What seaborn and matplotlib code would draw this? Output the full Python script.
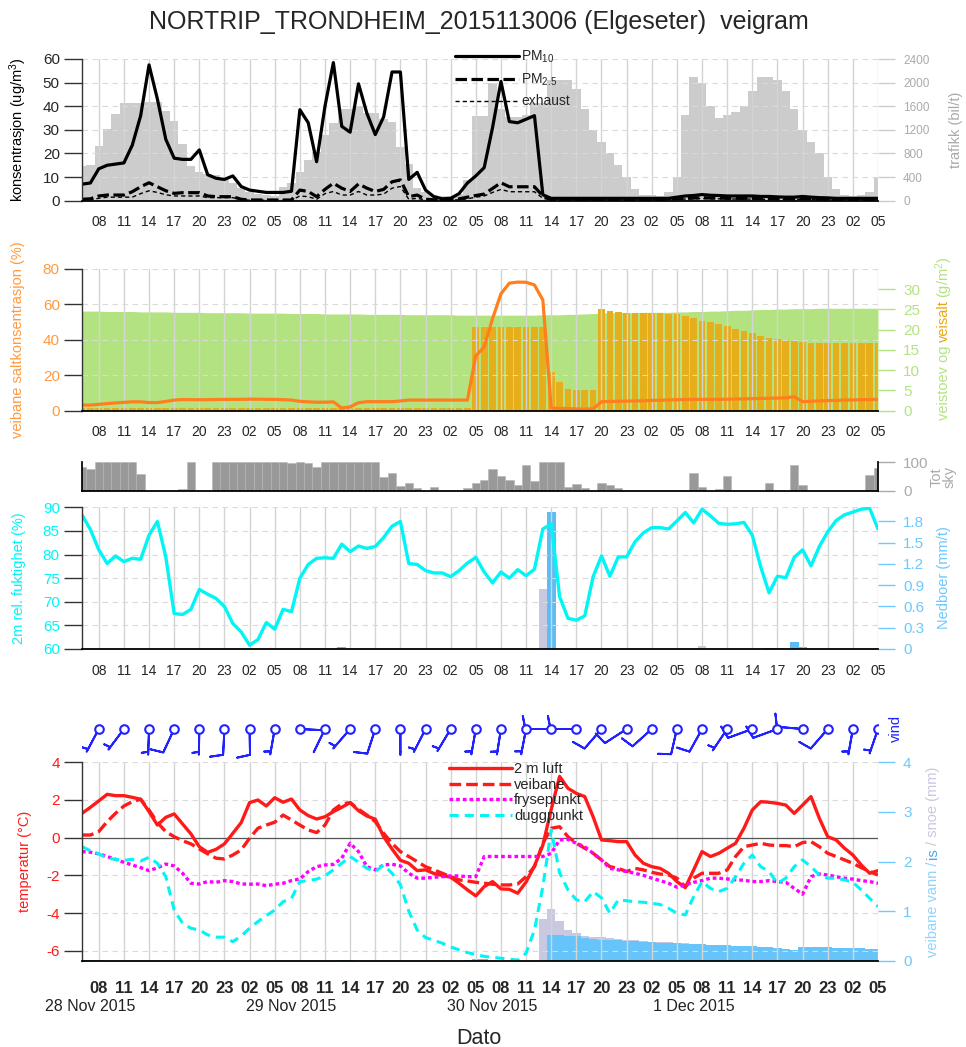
import numpy as np
import matplotlib
matplotlib.use("Agg")
import matplotlib.pyplot as plt
import seaborn as sns
from matplotlib.lines import Line2D

sns.set_theme(style="white")
plt.rcParams["font.family"] = ["Liberation Sans", "DejaVu Sans"]
plt.rcParams["mathtext.fontset"] = "custom"
plt.rcParams["mathtext.rm"] = "Liberation Sans"
plt.rcParams["mathtext.it"] = "Liberation Sans:italic"
plt.rcParams["axes.unicode_minus"] = False

# ---------------- data ----------------
start_hour = 6                      # first value: 28 Nov 2015 06:00
hours = np.arange(96)
day_names = ["28 Nov 2015", "29 Nov 2015", "30 Nov 2015", "1 Dec 2015"]

pm10 = [7, 7.5, 13.5, 15, 15.5, 16, 23.5, 36, 57.5, 43,
        26, 18, 17.5, 17.5, 21.5, 11, 9.5, 9, 10.5, 6,
        4.5, 4, 3.5, 3.5, 3.5, 4, 38.5, 33, 16.5, 40,
        58.5, 31.5, 29, 49.5, 37, 28, 35.5, 54.5, 54.5, 9,
        12, 4.5, 1.7, 0.8, 1, 3, 7.5, 10.5, 14, 31,
        50.5, 33.5, 33, 34.5, 36, 2.5, 1, 1, 1, 1,
        1, 1, 1, 1, 1, 1, 1, 1, 1, 1,
        1, 1.5, 2, 2.2, 2.6, 2.3, 2.2, 2, 2, 2,
        2, 1.8, 1.8, 1.6, 1.5, 1.5, 1.8, 1.5, 1.3, 1.2,
        1, 1, 1, 1, 1, 1]
pm25 = [0.6, 0.8, 2, 2.4, 2.4, 2.4, 3.8, 5.9, 7.6, 5.9,
        4.2, 3.1, 3.4, 3.4, 3.4, 2, 1.7, 1.7, 1.7, 0.6,
        0.3, 0.3, 0.3, 0.3, 0.3, 0.3, 4.5, 3.9, 1.7, 4.8,
        7.4, 5.3, 3.9, 7.1, 5.3, 3.9, 4.8, 8, 8.8, 1.7,
        2.4, 0.6, 0.4, 0.3, 0.3, 0.8, 1.5, 2.2, 2.8, 5.2,
        7.6, 5.9, 5.9, 5.9, 5.9, 2, 0.5, 0.4, 0.4, 0.4,
        0.4, 0.4, 0.4, 0.4, 0.4, 0.4, 0.4, 0.4, 0.5, 0.6,
        0.7, 0.9, 1.0, 1.1, 1.3, 1.1, 1.1, 1.0, 1.0, 1.0,
        1.0, 0.9, 0.9, 0.8, 0.8, 0.8, 0.9, 0.8, 0.7, 0.6,
        0.5, 0.5, 0.5, 0.5, 0.5, 0.5]
exhaust = [0.2, 0.4, 1, 1.5, 1.5, 1.5, 1.5, 3, 4.2, 3.5,
           2.5, 2, 2, 2, 2, 1.3, 1.3, 1.3, 1.3, 0.5,
           0.2, 0.2, 0.2, 0.2, 0.2, 0.2, 2, 1.7, 0.6, 3,
           3.9, 2.4, 2.4, 3.9, 2.4, 2.4, 2.8, 5.3, 6, 0.6,
           1, 0.3, 0.2, 0.2, 0.2, 0.4, 0.8, 1.5, 2, 3.5,
           4.8, 3.8, 3.8, 3.8, 3.8, 1, 0.3, 0.3, 0.3, 0.3,
           0.3, 0.3, 0.3, 0.3, 0.3, 0.3, 0.3, 0.3, 0.3, 0.4,
           0.5, 0.6, 0.7, 0.8, 0.9, 0.8, 0.8, 0.7, 0.7, 0.7,
           0.7, 0.6, 0.6, 0.6, 0.6, 0.6, 0.6, 0.5, 0.5, 0.4,
           0.3, 0.3, 0.3, 0.3, 0.3, 0.3]
traffic = [590, 600, 925, 1210, 1470, 1650, 1660, 1660, 1680, 1680,
           1520, 1350, 955, 580, 490, 460, 440, 350, 300, 210,
           150, 120, 100, 80, 237, 305, 491, 688, 825, 1120,
           1313, 1560, 1560, 1600, 1480, 1480, 1390, 1330, 910, 630,
           210, 150, 100, 80, 80, 120, 350, 1430, 1430, 2000,
           1550, 1420, 1420, 1450, 1650, 1650, 2050, 2050, 2050, 1900,
           1560, 1200, 1000, 800, 600, 400, 200, 100, 100, 80,
           150, 400, 1450, 2100, 2000, 1600, 1400, 1450, 1500, 1600,
           1850, 2100, 2100, 2050, 1850, 1550, 1200, 1000, 800, 400,
           200, 100, 80, 100, 150, 400]

salt_conc = [3.2, 3.2, 3.6, 4.0, 4.4, 4.7, 5.0, 5.0, 4.6, 4.6,
             5.2, 6.0, 6.3, 6.2, 6.2, 6.2, 6.3, 6.4, 6.4, 6.4,
             6.5, 6.5, 6.4, 6.4, 6.2, 6.0, 5.3, 5.0, 4.8, 4.8,
             5.0, 1.5, 2.2, 4.5, 5.1, 5.1, 5.1, 5.1, 5.5, 6.0,
             6.0, 6.0, 6.0, 6.0, 6.0, 6.0, 6.0, 31.0, 36.0, 52.0,
             66.0, 72.0, 72.6, 72.5, 71.0, 62.5, 1.5, 1.3, 1.2, 1.0,
             0.9, 1.0, 5.1, 5.2, 5.3, 5.4, 5.5, 5.6, 5.8, 5.9,
             6.1, 6.2, 6.4, 6.4, 6.4, 6.4, 6.4, 6.5, 6.6, 6.7,
             6.8, 6.9, 7.0, 7.1, 7.3, 7.9, 5.1, 5.3, 5.5, 5.7,
             5.8, 6.0, 6.1, 6.2, 6.3, 6.4]
road_dust = [24.6, 24.6, 24.6, 24.5, 24.5, 24.5, 24.5, 24.4, 24.4, 24.4,
             24.4, 24.3, 24.3, 24.3, 24.3, 24.2, 24.2, 24.2, 24.2, 24.2,
             24.1, 24.1, 24.1, 24.1, 24.1, 24.0, 24.0, 24.0, 24.0, 23.9,
             23.9, 23.9, 23.9, 23.9, 23.8, 23.8, 23.8, 23.8, 23.8, 23.7,
             23.7, 23.7, 23.7, 23.7, 23.7, 23.6, 23.6, 23.6, 23.6, 23.6,
             23.6, 23.6, 23.6, 23.6, 23.6, 23.7, 23.7, 23.7, 23.8, 23.8,
             23.9, 24.0, 24.1, 24.2, 24.2, 24.2, 24.2, 24.3, 24.3, 24.3,
             24.3, 24.4, 24.4, 24.5, 24.5, 24.6, 24.6, 24.7, 24.8, 24.8,
             24.9, 25.0, 25.0, 25.1, 25.1, 25.2, 25.2, 25.2, 25.3, 25.3,
             25.3, 25.3, 25.3, 25.3, 25.3, 25.3]
road_salt = [0.6] * 47 + [20.7] * 9 + [9.6, 7.2, 5.4, 5.2, 5.1, 5.0,
             25.0, 24.7, 24.4, 24.2, 24.2, 24.2, 24.2, 24.2, 24.0, 24.0,
             23.5, 22.8, 22.2, 21.8, 21.3, 20.9, 20.3, 19.7, 19.1, 18.5,
             18.0, 17.6, 17.5, 17.2, 17.0, 16.8, 16.6, 16.6, 16.6, 16.6,
             16.6, 16.6, 16.6, 16.6]

cloud = [81, 76, 100, 100, 100, 100, 100, 58, 0, 0,
         0, 0, 5, 100, 0, 0, 100, 100, 100, 100,
         100, 100, 100, 100, 100, 97, 100, 97, 84, 100,
         100, 100, 100, 100, 100, 100, 49, 61, 17, 26,
         8, 0, 12, 0, 0, 0, 11, 26, 38, 74,
         50, 36, 20, 88, 34, 100, 100, 100, 12, 25,
         10, 0, 28, 20, 10, 0, 0, 0, 0, 0,
         0, 0, 0, 62, 14, 0, 5, 51, 0, 0,
         0, 0, 26, 0, 0, 88, 20, 0, 0, 0,
         0, 0, 0, 0, 56, 80]

rel_hum = [88.4, 85.3, 81.0, 78.1, 79.7, 78.5, 79.2, 79.0, 84.1, 87.0,
           79.5, 67.5, 67.3, 68.4, 72.6, 71.6, 70.7, 69.0, 65.4, 63.6,
           60.8, 62.0, 65.6, 64.2, 68.4, 67.9, 75.0, 77.9, 79.2, 79.3,
           79.2, 82.2, 80.6, 81.8, 81.3, 81.7, 83.6, 86.0, 87.0, 78.1,
           77.9, 76.6, 76.1, 76.1, 75.3, 76.6, 78.2, 79.4, 76.3, 74.0,
           76.3, 75.0, 76.8, 75.5, 76.9, 85.4, 86.5, 71.1, 66.5, 66.1,
           67.0, 75.3, 79.7, 75.4, 79.5, 79.5, 82.7, 84.6, 85.7, 85.7,
           85.4, 87.1, 88.9, 86.7, 89.6, 88.2, 86.6, 86.4, 86.5, 86.8,
           84.1, 77.4, 71.9, 75.4, 75.1, 79.4, 81.0, 77.6, 81.7, 84.8,
           87.2, 88.4, 89.0, 89.6, 89.8, 85.4]
precip_rain = [0] * 96
precip_snow = [0] * 96
for h, val in [(31, 0.03), (56, 1.93), (82, 0.02), (83, 0.01), (85, 0.1), (86, 0.03)]:
    precip_rain[h] = val
for h, val in [(55, 0.84), (74, 0.04)]:
    precip_snow[h] = val

wind_hours = np.arange(2, 96, 3)
wind_dir = [208, 217, 182, 205, 181, 183, 179, 190, 93, 206, 221, 198, 180, 207, 211, 190,
            189, 191, 270, 270, 221, 237, 228, 193, 209, 214, 250, 250, 275, 221, 190, 199]
wind_spd = [5, 5, 5, 10, 5, 10, 10, 5, 3, 3, 5, 10, 3, 5, 5, 5,
            5, 5, 10, 10, 10, 10, 10, 10, 10, 5, 10, 10, 10, 10, 5, 5]

t_air = [1.29, 1.61, 1.95, 2.30, 2.23, 2.23, 2.14, 2.04, 1.38, 0.67,
         1.08, 1.26, 0.73, 0.20, -0.48, -0.78, -0.62, -0.33, 0.23, 0.80,
         1.86, 2.00, 1.68, 2.12, 1.88, 2.05, 1.47, 1.17, 0.99, 1.11,
         1.38, 1.61, 1.86, 1.43, 1.15, 0.98, 0.05, -0.60, -1.20, -1.36,
         -1.75, -1.71, -1.90, -2.01, -2.10, -2.42, -2.77, -3.09, -2.60, -2.33,
         -2.72, -2.74, -2.95, -2.35, -1.50, -0.40, 1.50, 3.25, 2.62, 2.35,
         2.18, 1.11, -0.12, -0.16, -0.21, -0.21, -0.92, -1.36, -1.54, -1.63,
         -1.89, -2.33, -2.65, -1.71, -0.74, -1.00, -0.83, -0.56, -0.30, 0.50,
         1.47, 1.91, 1.88, 1.82, 1.73, 1.29, 1.73, 2.18, 1.03, 0.05,
         -0.12, -0.56, -0.92, -1.45, -1.89, -1.75]
t_road = [0.14, 0.14, 0.32, 0.85, 1.29, 1.68, 1.91, 2.04, 1.47, 0.80,
          0.32, 0.05, -0.16, -0.33, -0.60, -0.86, -1.09, -1.13, -0.92, -0.65,
          -0.03, 0.50, 0.67, 0.82, 1.20, 0.94, 0.67, 0.41, 0.27, 0.67,
          1.47, 1.79, 1.86, 1.51, 1.20, 0.85, 0.23, -0.30, -0.74, -1.00,
          -1.27, -1.54, -1.71, -1.89, -2.07, -2.24, -2.30, -2.37, -2.42, -2.47,
          -2.51, -2.51, -2.46, -2.07, -1.54, -0.30, 0.50, 0.58, 0.05, -0.30,
          -0.56, -0.83, -1.18, -1.54, -1.63, -1.80, -1.63, -1.71, -1.84, -1.93,
          -1.98, -2.15, -2.60, -2.15, -1.89, -1.89, -1.89, -1.71, -1.00, -0.48,
          -0.39, -0.30, -0.39, -0.42, -0.42, -0.48, -0.26, -0.21, -0.48, -0.83,
          -1.00, -1.18, -1.36, -1.59, -1.80, -1.98]
t_freeze = [-0.74, -0.77, -0.86, -1.00, -1.15, -1.31, -1.45, -1.59, -1.75, -1.60,
            -1.40, -1.50, -1.89, -2.42, -2.46, -2.33, -2.37, -2.28, -2.33, -2.46,
            -2.47, -2.46, -2.55, -2.47, -2.42, -2.28, -2.19, -1.80, -1.54, -1.45,
            -1.42, -1.09, -0.30, -0.74, -1.54, -1.71, -1.45, -1.41, -1.50, -1.89,
            -2.15, -2.15, -2.10, -2.07, -2.03, -2.03, -2.07, -2.07, -1.00, -1.00,
            -1.00, -1.00, -1.00, -1.00, -1.00, -1.00, -0.83, -0.12, -0.09, -0.30,
            -0.48, -0.83, -1.18, -1.63, -1.71, -1.80, -1.89, -2.00, -2.15, -2.28,
            -2.42, -2.63, -2.50, -2.37, -2.28, -2.15, -2.15, -2.19, -2.24, -2.26,
            -2.33, -2.33, -2.28, -2.33, -2.37, -2.69, -3.00, -2.07, -1.93, -1.98,
            -2.07, -2.15, -2.20, -2.28, -2.33, -2.42]
t_dew = [-0.48, -0.69, -0.86, -1.09, -1.15, -1.20, -1.15, -1.24, -1.04, -1.36,
         -2.07, -3.84, -4.54, -4.81, -4.90, -5.16, -5.28, -5.28, -5.52, -5.22,
         -4.81, -4.45, -4.14, -3.84, -3.40, -3.22, -2.33, -2.28, -2.20, -2.03,
         -1.71, -1.36, -1.00, -1.30, -1.63, -1.80, -1.45, -1.89, -2.50, -3.90,
         -4.90, -5.30, -5.45, -5.60, -5.80, -5.95, -6.10, -6.20, -6.30, -6.35,
         -6.40, -6.45, -6.50, -6.13, -4.90, -2.60, 0.41, -1.87, -2.77, -3.30,
         -3.40, -2.86, -3.20, -4.01, -3.30, -3.35, -3.40, -3.43, -3.48, -3.55,
         -3.75, -4.01, -4.10, -3.13, -2.33, -2.69, -2.86, -2.69, -2.07, -1.36,
         -0.92, -1.54, -1.80, -2.42, -2.15, -1.54, -1.18, -1.54, -1.98, -2.15,
         -2.15, -2.24, -2.37, -2.77, -3.22, -3.66]

road_water = [0.01, 0.01, 0.01] + [0] * 28 + [0.01, 0.01] + [0] * 13 + [0.02, 0.03, 0.03] + [0] * 7 + [
    0.52, 0.52, 0.49, 0.49, 0.45, 0.43, 0.42, 0.42, 0.42, 0.40,
    0.39, 0.38, 0.37, 0.36, 0.36, 0.35, 0.34, 0.34, 0.33, 0.32,
    0.32, 0.31, 0.30, 0.30, 0.29, 0.28, 0.27, 0.26, 0.24, 0.22,
    0.28, 0.28, 0.27, 0.27, 0.26, 0.26, 0.25, 0.25, 0.24, 0.23]
road_snow = [0] * 55 + [0.84, 0.52, 0.28, 0.13, 0.07, 0.05, 0.04, 0.06, 0.03, 0.02,
                        0.02, 0.02, 0.02, 0.01, 0.01, 0.01, 0.01, 0.01] + [0.005] * 23

# ---------------- figure layout ----------------
W, H = 966, 1047
fig = plt.figure(figsize=(W / 100, H / 100), dpi=100)
X0, X1 = 82, 878


def rect(top, bottom):
    return [X0 / W, 1 - bottom / H, (X1 - X0) / W, (bottom - top) / H]


tick_pos = hours[((start_hour + hours) % 24) % 3 == 2]
tick_lab = [f"{(start_hour + h) % 24:02d}" for h in tick_pos]
XL = (0, 95)

GRID_V = "#d4d4d4"
GRID_H = "#dadada"


def base_style(ax, axr, xlabels=True, big=False):
    ax.set_zorder(3)
    axr.set_zorder(2)
    ax.patch.set_visible(False)
    for s in ["top", "right"]:
        ax.spines[s].set_visible(False)
    for s in axr.spines.values():
        s.set_visible(False)
    ax.spines["left"].set_color("#333333")
    ax.spines["left"].set_linewidth(1.0)
    ax.spines["bottom"].set_color("black")
    ax.spines["bottom"].set_linewidth(1.3)
    ax.set_xlim(*XL)
    axr.set_xlim(*XL)
    ax.set_xticks(tick_pos)
    ax.set_xticklabels(tick_lab if xlabels else [])
    ax.tick_params(axis="x", direction="out", length=8.5, width=1.3, color="black",
                   labelsize=12 if big else 10, pad=6 if big else 2)
    if big:
        for t in ax.get_xticklabels():
            t.set_fontweight("bold")
    ax.tick_params(axis="y", direction="out", length=13, width=1, color="#333333",
                   labelsize=11, pad=3)
    axr.tick_params(axis="y", direction="out", length=12, width=1, pad=6)
    ax.set_axisbelow(True)
    ax.grid(axis="x", color=GRID_V, lw=1.0, ls="-")
    ax.grid(axis="y", color=GRID_H, lw=0.8, ls=(0, (5, 4)))
    ax.set_xlabel("")
    ax.set_ylabel("")
    axr.set_ylabel("")


renderer = fig.canvas.get_renderer()


def stacked_label(xpx, ycpx, parts, fontsize=10.5, gap=3.0):
    lens = []
    for s, c in parts:
        t = fig.text(0, 0, s, rotation=90, fontsize=fontsize)
        lens.append(t.get_window_extent(renderer).height)
        t.remove()
    total = sum(lens) + gap * (len(parts) - 1)
    y = (H - ycpx) - total / 2
    for (s, c), L in zip(parts, lens):
        fig.text(xpx / W, y / H, s, rotation=90, fontsize=fontsize, color=c,
                 ha="center", va="bottom")
        y += L + gap


# ---- title ----
fig.text(479 / W, 1 - 22 / H, "NORTRIP_TRONDHEIM_2015113006 (Elgeseter)  veigram",
         ha="center", va="center", fontsize=18)

# ---- panel 1 : concentrations + traffic ----
ax1 = fig.add_axes(rect(59, 200.7))
ax1r = ax1.twinx()
ax1r.bar(hours, traffic, width=1.0, color="#cccccc", linewidth=0)
ax1r.set_ylim(0, 2400)
ax1r.set_yticks(np.arange(0, 2401, 400))
sns.lineplot(x=hours, y=pm10, ax=ax1, color="black", linewidth=2.3)
sns.lineplot(x=hours, y=pm25, ax=ax1, color="black", linewidth=2.3, linestyle=(0, (3.6, 1.4)))
sns.lineplot(x=hours, y=exhaust, ax=ax1, color="black", linewidth=1.0, linestyle=(0, (3, 2.2)))
ax1.set_ylim(0, 60)
ax1.set_yticks(np.arange(0, 61, 10))
base_style(ax1, ax1r)
ax1r.tick_params(axis="y", colors="#cccccc", labelcolor="#aaaaaa", labelsize=8.5)
ax1.legend(handles=[Line2D([], [], color="black", lw=2.3),
                    Line2D([], [], color="black", lw=2.3, ls=(0, (3.6, 1.4))),
                    Line2D([], [], color="black", lw=1.0, ls=(0, (3, 2.2)))],
           labels=["PM$_{10}$", "PM$_{2.5}$", "exhaust"],
           loc="upper left", bbox_to_anchor=((455 - X0) / (X1 - X0), 1.07),
           frameon=False, fontsize=10, handlelength=4.6, handletextpad=0.15,
           labelspacing=0.45, borderpad=0, borderaxespad=0)
stacked_label(18, 130, [("konsentrasjon (ug/m$^3$)", "black")])
stacked_label(956, 130, [("trafikk (bil/t)", "#aaaaaa")])

# ---- panel 2 : salt ----
ORANGE = "#ff7f1f"
GREEN = "#b3e380"
ax2 = fig.add_axes(rect(269, 410.7))
ax2r = ax2.twinx()
ax2r.fill_between(hours, road_dust, color=GREEN, linewidth=0)
ax2r.bar(hours, road_salt, width=0.8, color="#e6ae1a", linewidth=0)
ax2r.set_ylim(0, 35)
ax2r.set_yticks(np.arange(0, 31, 5))
sns.lineplot(x=hours, y=salt_conc, ax=ax2, color=ORANGE, linewidth=2.3)
ax2.set_ylim(0, 80)
ax2.set_yticks(np.arange(0, 81, 20))
base_style(ax2, ax2r)
ax2.tick_params(axis="y", labelcolor="#ff9a40")
ax2r.tick_params(axis="y", colors=GREEN, labelcolor=GREEN, labelsize=11)
stacked_label(18, 340, [("veibane saltkonsentrasjon (%)", "#ff9a40")])
stacked_label(944, 338, [("veistoev og", GREEN), ("veisalt", "#e6a817"), ("(g/m$^2$)", GREEN)])

# ---- panel 3 : cloud cover ----
ax3 = fig.add_axes(rect(462, 490.7))
ax3.bar(hours, cloud, width=1.0, color="#999999", edgecolor="#b5b5b5", linewidth=0.4)
ax3.set_xlim(*XL)
ax3.set_ylim(0, 100)
ax3.set_xticks([])
ax3.yaxis.tick_right()
ax3.set_yticks([0, 100])
ax3.tick_params(axis="y", direction="out", length=12, width=1, color="#aaaaaa",
                labelcolor="#aaaaaa", labelsize=11, pad=6)
ax3.spines["top"].set_visible(False)
for s in ["left", "right", "bottom"]:
    ax3.spines[s].set_color("black")
ax3.spines["bottom"].set_linewidth(1.3)
fig.text(937 / W, 1 - 477 / H, "Tot", rotation=90, ha="center", va="center",
         fontsize=10.5, color="#aaaaaa")
fig.text(950 / W, 1 - 477 / H, "sky", rotation=90, ha="center", va="center",
         fontsize=10.5, color="#aaaaaa")

# ---- panel 4 : humidity + precipitation ----
CYAN = "#00f5f5"
LBLUE = "#6cc8ff"
ax4 = fig.add_axes(rect(507.3, 649))
ax4r = ax4.twinx()
ax4r.bar(hours, precip_snow, width=1.0, color="#c8c8e0", linewidth=0)
ax4r.bar(hours, precip_rain, width=1.1, color="#5cbcf5", linewidth=0)
ax4r.set_ylim(0, 2.0)
ax4r.set_yticks(np.round(np.arange(0, 1.81, 0.3), 1))
ax4r.set_yticklabels(["0", "0.3", "0.6", "0.9", "1.2", "1.5", "1.8"])
sns.lineplot(x=hours, y=rel_hum, ax=ax4, color=CYAN, linewidth=2.4)
ax4.set_ylim(60, 90)
ax4.set_yticks(np.arange(60, 91, 5))
base_style(ax4, ax4r)
ax4.tick_params(axis="y", labelcolor=CYAN)
ax4r.tick_params(axis="y", colors=LBLUE, labelcolor=LBLUE, labelsize=11)
stacked_label(19, 578, [("2m rel. fuktighet (%)", CYAN)])
stacked_label(944, 578, [("Nedboer (mm/t)", LBLUE)])

# ---- panel 5 : wind barbs ----
BLUE = "#2222ff"
ax5 = fig.add_axes(rect(712, 778))
ax5.set_xlim(*XL)
ax5.set_ylim(0, 1)
ax5.axis("off")
ax5.patch.set_visible(False)
ax5.set_zorder(6)
wd = np.deg2rad(np.array(wind_dir, float))
ws = np.array(wind_spd, float)
u = -ws * np.sin(wd)
v = -ws * np.cos(wd)
y0 = np.full(len(wind_hours), 1 - (729 - 712) / 66)
BARB_LEN = 6.1          # matplotlib barb length -> ~26 px staff at 100 dpi
strong = ws >= 5
ax5.barbs(wind_hours[strong], y0[strong], u[strong], v[strong], length=BARB_LEN,
          color=BLUE, linewidth=1.4, pivot="tip", joinstyle="round", capstyle="round",
          sizes=dict(spacing=0.08, height=0.5, width=0.2))
weak = ~strong
scale = 5 / ws[weak]
ax5.barbs(wind_hours[weak], y0[weak], u[weak] * scale, v[weak] * scale, length=BARB_LEN,
          color=BLUE, linewidth=1.4, pivot="tip", joinstyle="round", capstyle="round",
          sizes=dict(spacing=0.08, height=0.01, width=0.01))
ax5.scatter(wind_hours, y0, s=38, facecolor="white", edgecolor=BLUE, linewidth=1.5, zorder=5)
fig.text(896 / W, 1 - 728 / H, "vind", rotation=90, ha="center", va="center",
         fontsize=10.5, color=BLUE)

# ---- panel 6 : temperatures + road water/snow ----
RED = "#ff1a1a"
ax6 = fig.add_axes(rect(762.3, 960.7))
ax6r = ax6.twinx()
ax6r.bar(hours, np.array(road_water) + np.array(road_snow), width=1.0, color="#c8c8e0", linewidth=0)
ax6r.bar(hours, road_water, width=1.0, color="#66c4fa", linewidth=0)
ax6r.set_ylim(0, 4)
ax6r.set_yticks([0, 1, 2, 3, 4])
ax6.axhline(0, color="#555555", lw=0.9, zorder=1)
sns.lineplot(x=hours, y=t_air, ax=ax6, color=RED, linewidth=2.4)
sns.lineplot(x=hours, y=t_road, ax=ax6, color=RED, linewidth=2.4, linestyle=(0, (3.5, 1.5)))
sns.lineplot(x=hours, y=t_freeze, ax=ax6, color="#ff00ff", linewidth=2.4, linestyle=(0, (1.1, 0.9)))
sns.lineplot(x=hours, y=t_dew, ax=ax6, color=CYAN, linewidth=2.2, linestyle=(0, (3, 2)))
ax6.set_ylim(-6.53, 4)
ax6.set_yticks(np.arange(-6, 4.1, 2))
base_style(ax6, ax6r, big=True)
ax6.tick_params(axis="y", labelcolor=RED)
ax6r.tick_params(axis="y", colors=LBLUE, labelcolor=LBLUE, labelsize=11)
ax6.legend(handles=[Line2D([], [], color=RED, lw=2.4),
                    Line2D([], [], color=RED, lw=2.4, ls=(0, (3.5, 1.5))),
                    Line2D([], [], color="#ff00ff", lw=2.4, ls=(0, (1.1, 0.9))),
                    Line2D([], [], color=CYAN, lw=2.2, ls=(0, (3, 2)))],
           labels=["2 m luft", "veibane", "frysepunkt", "duggpunkt"],
           loc="upper left", bbox_to_anchor=((449 - X0) / (X1 - X0), 1.0),
           frameon=False, fontsize=10.5, handlelength=4.3, handletextpad=0.15,
           labelspacing=0.1, borderpad=0, borderaxespad=0)
stacked_label(25, 861, [("temperatur (\u00b0C)", RED)])
stacked_label(933, 862, [("veibane vann /", "#8fd3ff"), ("is", "#45a5f0"),
                         ("/ snoe (mm)", "#c8c8e0")])

# date labels (07:00 each day) and axis title
xt = ax6.get_xaxis_transform()
label_hours = hours[(start_hour + hours) % 24 == 7]
for h, name in zip(label_hours, day_names):
    ax6.text(h, -0.233, name, transform=xt, ha="center", va="center", fontsize=11.5, color="#222222")
fig.text(479 / W, 1 - 1038 / H, "Dato", ha="center", va="center", fontsize=15.5)

fig.savefig("out.png", dpi=100)
